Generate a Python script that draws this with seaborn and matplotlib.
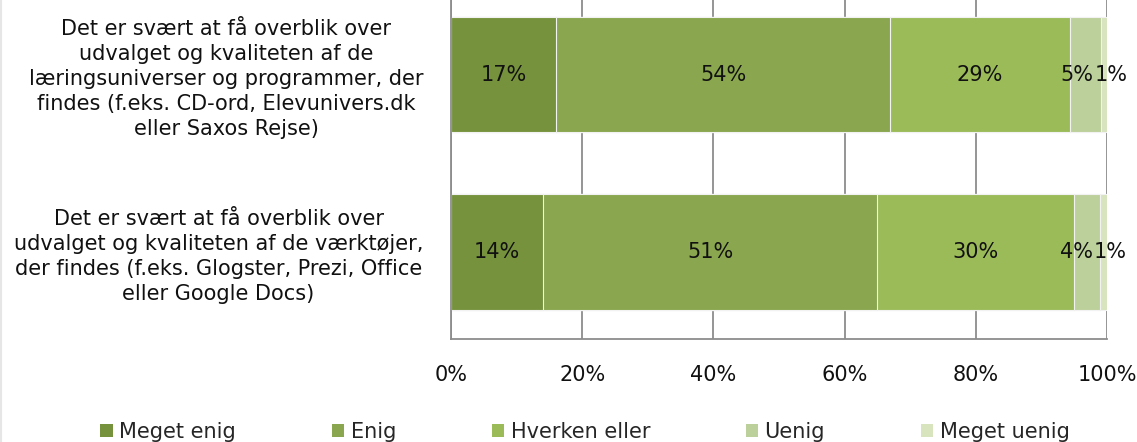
import numpy as np
import pandas as pd
import matplotlib
matplotlib.use("Agg")
import matplotlib.pyplot as plt
from matplotlib.patches import Patch
from matplotlib.lines import Line2D
import seaborn as sns

categories = [
    "Det er svært at få overblik over\nudvalget og kvaliteten af de\nlæringsuniverser og programmer, der\nfindes (f.eks. CD-ord, Elevunivers.dk\neller Saxos Rejse)",
    "Det er svært at få overblik over\nudvalget og kvaliteten af de værktøjer,\nder findes (f.eks. Glogster, Prezi, Office\neller Google Docs)",
]
series_names = ["Meget enig", "Enig", "Hverken eller", "Uenig", "Meget uenig"]
meget_enig = [17, 14]
enig = [54, 51]
hverken = [29, 30]
uenig = [5, 4]
meget_uenig = [1, 1]
colors = ["#76923C", "#8AA64E", "#9BBB59", "#BBD09A", "#D7E4BD"]
xticks = [0, 20, 40, 60, 80, 100]

sns.set_theme(style="white")
plt.rcParams["font.family"] = ["DejaVu Sans"]

vals = np.array([meget_enig, enig, hverken, uenig, meget_uenig], dtype=float)
shares = vals / vals.sum(axis=0) * 100
cum = np.cumsum(shares, axis=0)

fig = plt.figure(figsize=(11.37, 4.42), dpi=100)
ax = fig.add_axes([451 / 1137, 1 - 339 / 442, (1107 - 451) / 1137, 339 / 442])

# gridlines behind
ax.set_axisbelow(True)
ax.xaxis.grid(True, color="#8c8c8c", linewidth=1.3)

# stacked bars: draw cumulative totals from largest to smallest
for i in range(len(series_names) - 1, -1, -1):
    df = pd.DataFrame({"cat": categories, "val": cum[i]})
    sns.barplot(data=df, x="val", y="cat", orient="h", color=colors[i],
                saturation=1, width=0.65, edgecolor="#f2f2f2", linewidth=0.8,
                ax=ax)

# data labels (tiny last segment: labels abut at its start boundary)
n = len(series_names)
for j in range(len(categories)):
    for i in range(n):
        center = cum[i, j] - shares[i, j] / 2
        x, ha = center, "center"
        if i == n - 1 and shares[i, j] < 3:
            x, ha = cum[i - 1, j] - 1.0, "left"
        elif i == n - 2 and shares[i + 1, j] < 3:
            x, ha = cum[i, j] - 1.2, "right"
        ax.text(x, j, f"{int(vals[i, j])}%", ha=ha, va="center",
                fontsize=15, color="#111111", clip_on=False)

ax.set_xlim(0, 100)
ax.set_ylim(1.49, -0.42)
ax.set_xticks(xticks)
ax.set_xticklabels([f"{t}%" for t in xticks], fontsize=15, color="#111111")
ax.tick_params(axis="x", length=0, pad=19)
ax.tick_params(axis="y", length=0, pad=20)
for lbl in ax.get_yticklabels():
    lbl.set_fontsize(15)
    lbl.set_multialignment("center")
    lbl.set_linespacing(1.3)
    lbl.set_color("#111111")
ax.set_xlabel("")
ax.set_ylabel("")

for s in ["top", "right"]:
    ax.spines[s].set_visible(False)
for s in ["left", "bottom"]:
    ax.spines[s].set_color("#8c8c8c")
    ax.spines[s].set_linewidth(1.3)

handles = [Patch(facecolor=c, edgecolor="none", label=n_) for c, n_ in zip(colors, series_names)]
fig.legend(handles=handles, loc="center", bbox_to_anchor=(585 / 1137, 1 - 432 / 442),
           ncol=5, frameon=False, fontsize=15, handlelength=0.6, handleheight=0.6,
           handletextpad=0.3, columnspacing=4.6, borderaxespad=0, borderpad=0)

fig.add_artist(Line2D([0.0009, 0.0009], [0, 1], color="#e6e6e6", linewidth=1.5,
                      transform=fig.transFigure))

fig.savefig("out.png", dpi=100)
